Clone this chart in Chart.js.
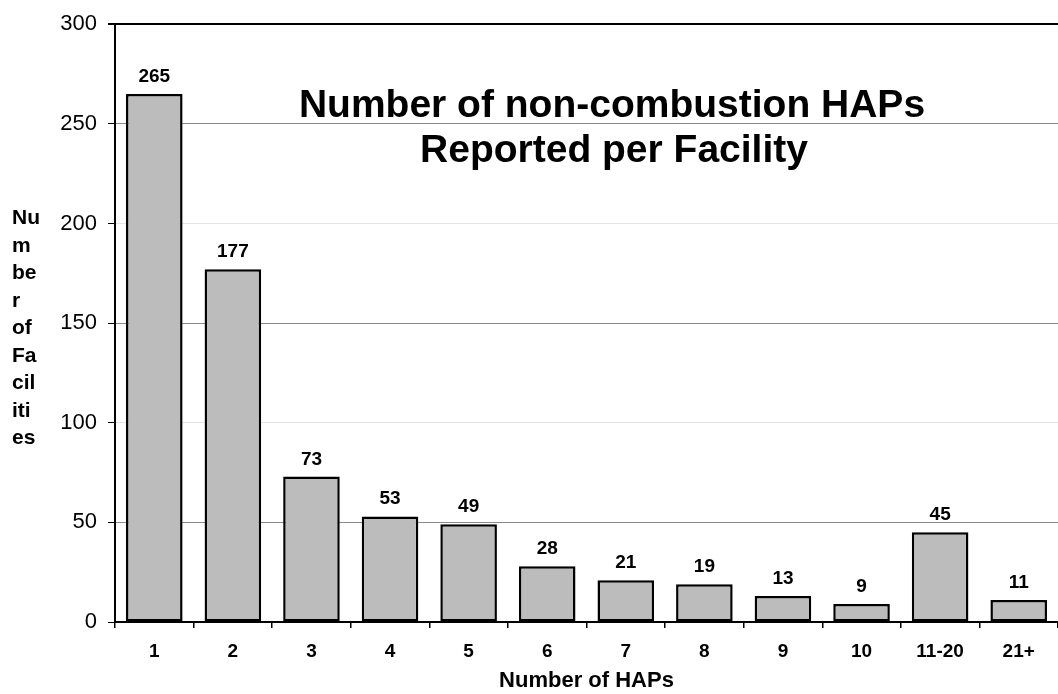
<!DOCTYPE html>
<html>
<head>
<meta charset="utf-8">
<script src="https://cdn.jsdelivr.net/npm/chart.js@4.4.0/dist/chart.umd.min.js"></script>
<style>
  html, body { margin: 0; padding: 0; background: #fff; }
  #wrap { width: 1058px; height: 694px; }
</style>
</head>
<body>
<div id="wrap"><canvas id="hapsChart" width="1058" height="694"></canvas></div>
<script>
const categories = ['1', '2', '3', '4', '5', '6', '7', '8', '9', '10', '11-20', '21+'];
const facilityCounts = [265, 177, 73, 53, 49, 28, 21, 19, 13, 9, 45, 11];
const yTicks = [0, 50, 100, 150, 200, 250, 300];
const titleLines = ['Number of non-combustion HAPs', 'Reported per Facility'];
const yTitleLines = ['Nu', 'm', 'be', 'r', 'of', 'Fa', 'cil', 'iti', 'es'];

const FONT = '"Liberation Sans", Arial, sans-serif';

// value labels above each bar + the title inside the plot + the broken-up y label
const annotate = {
    id: 'annotate',
    afterDatasetsDraw(chart) {
        const ctx = chart.ctx;
        const meta = chart.getDatasetMeta(0);
        ctx.save();
        ctx.fillStyle = '#000';
        ctx.font = 'bold 19px ' + FONT;
        ctx.textAlign = 'center';
        ctx.textBaseline = 'alphabetic';
        meta.data.forEach((bar, i) => {
            ctx.fillText(String(facilityCounts[i]), bar.x, bar.y - 12);
        });
        ctx.restore();
    },
    afterDraw(chart) {
        const ctx = chart.ctx;
        ctx.save();
        ctx.fillStyle = '#000';
        ctx.font = 'bold 39px ' + FONT;
        ctx.textAlign = 'center';
        ctx.textBaseline = 'alphabetic';
        ctx.fillText(titleLines[0], 612, 117);
        ctx.fillText(titleLines[1], 614, 162);

        ctx.font = 'bold 21px ' + FONT;
        ctx.textAlign = 'left';
        yTitleLines.forEach((line, i) => {
            ctx.fillText(line, 12, 224 + i * 27.5);
        });
        ctx.restore();
    }
};

const ctx = document.getElementById('hapsChart').getContext('2d');
new Chart(ctx, {
    type: 'bar',
    data: {
        labels: categories,
        datasets: [{
            data: facilityCounts,
            backgroundColor: '#bcbcbc',
            borderColor: '#000',
            borderWidth: 2.5,
            borderSkipped: false,
            barPercentage: 0.72,
            categoryPercentage: 1
        }]
    },
    options: {
        responsive: false,
        animation: false,
        layout: {
            padding: { left: 0, top: 24, right: -8, bottom: 0 }
        },
        plugins: {
            legend: { display: false },
            tooltip: { enabled: false }
        },
        scales: {
            x: {
                afterFit: scale => { scale.height = 72; },
                grid: {
                    display: true,
                    drawOnChartArea: false,
                    drawTicks: true,
                    tickLength: 6,
                    color: '#000',
                    lineWidth: 1.5
                },
                border: { display: true, color: '#000', width: 2 },
                ticks: {
                    color: '#000',
                    padding: 12,
                    font: { family: FONT, size: 19, weight: 'bold' }
                },
                title: {
                    display: true,
                    text: 'Number of HAPs',
                    color: '#000',
                    padding: { top: 0, bottom: 0 },
                    font: { family: FONT, size: 22, weight: 'bold' }
                }
            },
            y: {
                min: 0,
                max: 300,
                afterFit: scale => { scale.width = 115; },
                afterBuildTicks: scale => {
                    scale.ticks = yTicks.map(v => ({ value: v }));
                },
                grid: {
                    color: c => {
                        const v = c.tick ? c.tick.value : 0;
                        if (v === 300) return '#000';
                        if (v === 100 || v === 200) return '#e4e4e4';
                        return '#8a8a8a';
                    },
                    lineWidth: c => (c.tick && c.tick.value === 300) ? 2 : 1,
                    tickColor: '#000',
                    tickLength: 7
                },
                border: { display: true, color: '#000', width: 2 },
                ticks: {
                    color: '#000',
                    padding: 11,
                    font: { family: FONT, size: 22 }
                }
            }
        }
    },
    plugins: [annotate]
});
</script>
</body>
</html>
